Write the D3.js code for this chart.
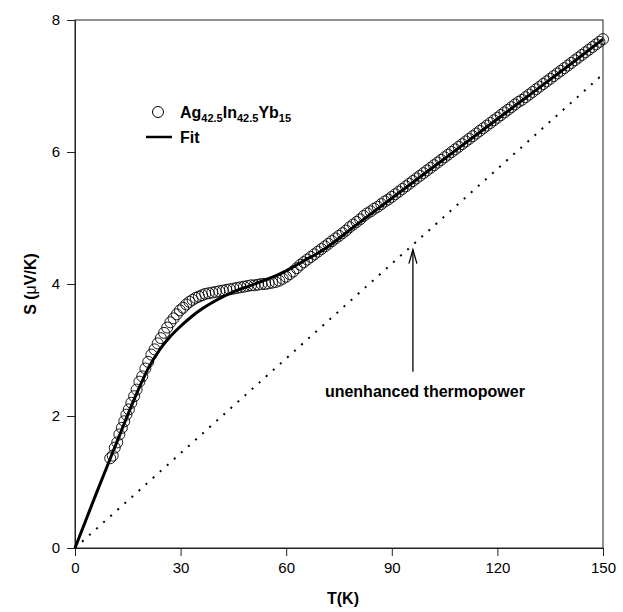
<!DOCTYPE html>
<html>
<head>
<meta charset="utf-8">
<script src="https://cdn.jsdelivr.net/npm/d3@7"></script>
<style>
  body { margin: 0; background: #fff; }
  text { font-family: "Liberation Sans", Arial, sans-serif; }
</style>
</head>
<body>
<div id="chart"></div>
<script>
// measured data (circles)
const dataT = [10.0, 10.7, 11.3, 12.0, 12.6, 13.3, 14.0, 14.6, 15.3, 16.0, 16.8, 17.5, 18.3, 19.1, 20.0,
  20.8, 21.7, 22.6, 23.5, 24.4, 25.3, 26.2, 27.1, 28.0, 28.9, 29.8, 30.7, 31.6, 32.5, 33.4, 34.3,
  35.2, 36.1, 37.0, 38, 39, 40, 41, 42, 43, 44, 45, 46, 47, 48, 49, 50, 51, 52, 53, 54, 55, 56, 57,
  58, 59, 60, 61, 62, 63, 64, 65, 66, 67, 68, 69, 70, 71, 72, 73, 74, 75, 76, 77, 78, 79, 80, 81,
  82, 83, 84, 85, 86, 87, 88, 89, 90, 91, 92, 93, 94, 95, 96, 97, 98, 99, 100, 101, 102, 103, 104,
  105, 106, 107, 108, 109, 110, 111, 112, 113, 114, 115, 116, 117, 118, 119, 120, 121, 122, 123,
  124, 125, 126, 127, 128, 129, 130, 131, 132, 133, 134, 135, 136, 137, 138, 139, 140, 141, 142,
  143, 144, 145, 146, 147, 148, 149, 150];
const dataS = [1.36, 1.40, 1.52, 1.60, 1.72, 1.82, 1.92, 2.02, 2.10, 2.20, 2.30, 2.40, 2.52, 2.60, 2.72,
  2.82, 2.93, 3.01, 3.10, 3.18, 3.26, 3.34, 3.42, 3.48, 3.54, 3.60, 3.64, 3.69, 3.73, 3.76, 3.79,
  3.81, 3.83, 3.85, 3.86, 3.87, 3.88, 3.89, 3.90, 3.91, 3.92, 3.93, 3.94, 3.95, 3.96, 3.97, 3.98, 3.98, 3.99, 4.00, 4.00, 4.01, 4.02, 4.03,
  4.05, 4.08, 4.11, 4.15, 4.19, 4.24, 4.29, 4.33, 4.37, 4.41, 4.45, 4.49, 4.53, 4.57, 4.61, 4.65, 4.69, 4.73, 4.77, 4.81, 4.86, 4.90, 4.94, 4.98,
  5.03, 5.07, 5.10, 5.14, 5.17, 5.21, 5.25, 5.28, 5.32, 5.36, 5.40, 5.44, 5.48, 5.52, 5.56, 5.60, 5.64, 5.68, 5.72, 5.76, 5.80, 5.84, 5.88,
  5.92, 5.96, 6.00, 6.04, 6.08, 6.12, 6.16, 6.20, 6.24, 6.28, 6.32, 6.36, 6.40, 6.44, 6.48, 6.52, 6.56, 6.60, 6.64, 6.68,
  6.72, 6.76, 6.79, 6.83, 6.87, 6.91, 6.95, 6.99, 7.03, 7.07, 7.11, 7.15, 7.19, 7.23, 7.27, 7.31, 7.35, 7.39, 7.43,
  7.47, 7.51, 7.55, 7.59, 7.63, 7.67, 7.71, 7.74];

// fit curve
const fitT = [0, 3, 6, 9, 12, 15, 18, 21, 24, 27, 30, 33, 36, 40, 45, 50, 55, 60, 65, 70, 80, 90, 100, 110, 120, 130, 140, 150];
const fitS = [0, 0.41, 0.82, 1.22, 1.62, 2.02, 2.40, 2.74, 3.00, 3.20, 3.36, 3.50, 3.62, 3.75, 3.88, 3.98, 4.08, 4.20, 4.35, 4.50, 4.90, 5.30, 5.70, 6.10, 6.50, 6.90, 7.30, 7.71];

// unenhanced thermopower (dotted)
const baseT = [0, 150];
const baseS = [0, 7.18];

const xTicks = [0, 30, 60, 90, 120, 150];
const yTicks = [0, 2, 4, 6, 8];

const width = 623, height = 612;
const margin = { top: 20, right: 20, bottom: 64, left: 75 };
const innerW = width - margin.left - margin.right;
const innerH = height - margin.top - margin.bottom;

const svg = d3.select("#chart").append("svg")
  .attr("width", width)
  .attr("height", height);

const g = svg.append("g").attr("transform", `translate(${margin.left},${margin.top})`);

const x = d3.scaleLinear().domain([0, 150]).range([0, innerW]);
const y = d3.scaleLinear().domain([0, 8]).range([innerH, 0]);

// frame
g.append("rect")
  .attr("width", innerW).attr("height", innerH)
  .attr("fill", "none").attr("stroke", "#222").attr("stroke-width", 1);

g.append("g")
  .attr("transform", `translate(0,${innerH})`)
  .call(d3.axisBottom(x).tickValues(xTicks).tickSize(8).tickPadding(6))
  .call(a => a.select(".domain").attr("stroke", "#222"))
  .call(a => a.selectAll(".tick line").attr("stroke", "#222"))
  .call(a => a.selectAll(".tick text").attr("font-size", "15px").attr("fill", "#000")
    .style("font-family", "'Liberation Sans', Arial, sans-serif"));

g.append("g")
  .call(d3.axisLeft(y).tickValues(yTicks).tickSize(8).tickPadding(7))
  .call(a => a.select(".domain").attr("stroke", "#222"))
  .call(a => a.selectAll(".tick line").attr("stroke", "#222"))
  .call(a => a.selectAll(".tick text").attr("font-size", "15px").attr("fill", "#000")
    .style("font-family", "'Liberation Sans', Arial, sans-serif"));

// axis titles
svg.append("text")
  .attr("x", margin.left + x(75) + 4)
  .attr("y", 604)
  .attr("text-anchor", "middle")
  .attr("font-size", "16px").attr("font-weight", "bold")
  .text("T(K)");

svg.append("text")
  .attr("transform", `translate(36,${margin.top + y(4)}) rotate(-90)`)
  .attr("text-anchor", "middle")
  .attr("font-size", "16px").attr("font-weight", "bold")
  .call(t => {
    t.append("tspan").text("S (");
    t.append("tspan").attr("font-weight", "normal").text("\u03bc");
    t.append("tspan").text("V/K)");
  });

// dotted baseline
const baseData = baseT.map((t, i) => [t, baseS[i]]);
g.append("path")
  .datum(baseData)
  .attr("d", d3.line().x(d => x(d[0])).y(d => y(d[1])))
  .attr("fill", "none").attr("stroke", "#000")
  .attr("stroke-width", 2).attr("stroke-dasharray", "2,7.5");

// data circles
const pts = dataT.map((t, i) => [t, dataS[i]]);
g.selectAll(".dot")
  .data(pts)
  .enter().append("circle")
  .attr("cx", d => x(d[0]))
  .attr("cy", d => y(d[1]))
  .attr("r", 5.5)
  .attr("fill", "none")
  .attr("stroke", "#000")
  .attr("stroke-width", 0.9);

// fit
const fitData = fitT.map((t, i) => [t, fitS[i]]);
g.append("path")
  .datum(fitData)
  .attr("d", d3.line().x(d => x(d[0])).y(d => y(d[1])).curve(d3.curveMonotoneX))
  .attr("fill", "none").attr("stroke", "#000").attr("stroke-width", 3);

// arrow annotation
const arrowT = 96;
const ax = x(arrowT);
const yTop = y(4.52), yBot = y(2.67);
g.append("line")
  .attr("x1", ax).attr("x2", ax).attr("y1", yBot).attr("y2", yTop + 1)
  .attr("stroke", "#000").attr("stroke-width", 1.3);
g.append("path")
  .attr("d", `M${ax - 4},${yTop + 14} L${ax},${yTop} L${ax + 4},${yTop + 14}`)
  .attr("fill", "none").attr("stroke", "#000").attr("stroke-width", 1.3);

g.append("text")
  .attr("x", ax + 12)
  .attr("y", yBot + 25)
  .attr("text-anchor", "middle")
  .attr("font-size", "16px").attr("font-weight", "bold")
  .text("unenhanced thermopower");

// legend
const lg = svg.append("g");
lg.append("circle").attr("cx", 158).attr("cy", 112).attr("r", 5.5)
  .attr("fill", "none").attr("stroke", "#000").attr("stroke-width", 1);
const lt = lg.append("text").attr("x", 180).attr("y", 118)
  .attr("font-size", "16px").attr("font-weight", "bold");
lt.append("tspan").text("Ag");
lt.append("tspan").attr("font-size", "11px").attr("dy", 4).text("42.5");
lt.append("tspan").attr("dy", -4).text("In");
lt.append("tspan").attr("font-size", "11px").attr("dy", 4).text("42.5");
lt.append("tspan").attr("dy", -4).text("Yb");
lt.append("tspan").attr("font-size", "11px").attr("dy", 4).text("15");

lg.append("line").attr("x1", 146).attr("x2", 172).attr("y1", 137).attr("y2", 137)
  .attr("stroke", "#000").attr("stroke-width", 2.5);
lg.append("text").attr("x", 180).attr("y", 143)
  .attr("font-size", "16px").attr("font-weight", "bold").text("Fit");
</script>
</body>
</html>
